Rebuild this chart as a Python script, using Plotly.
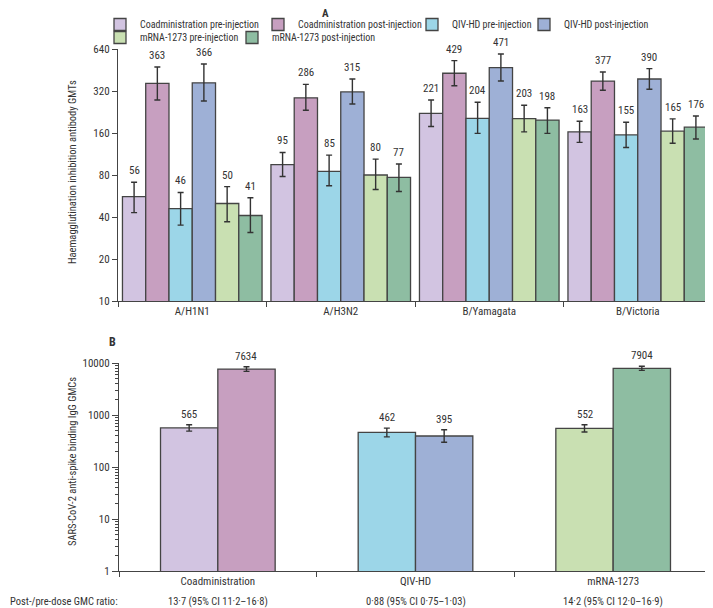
import numpy as np
import plotly.graph_objects as go

# ---------------- data ----------------
strains = ["A/H1N1", "A/H3N2", "B/Yamagata", "B/Victoria"]
series_names = [
    "Coadministration pre-injection", "Coadministration post-injection",
    "QIV-HD pre-injection", "QIV-HD post-injection",
    "mRNA-1273 pre-injection", "mRNA-1273 post-injection",
]
coad_pre = [56, 95, 221, 163]
coad_pre_lo = [43, 78, 178, 137]
coad_pre_hi = [71, 116, 276, 194]
coad_post = [363, 286, 429, 377]
coad_post_lo = [276, 233, 349, 324]
coad_post_hi = [475, 357, 528, 438]
qiv_pre = [46, 85, 204, 155]
qiv_pre_lo = [35, 67, 159, 126]
qiv_pre_hi = [60, 111, 266, 191]
qiv_post = [366, 315, 471, 390]
qiv_post_lo = [271, 258, 377, 329]
qiv_post_hi = [500, 390, 589, 463]
mrna_pre = [50, 80, 203, 165]
mrna_pre_lo = [37, 63, 163, 135]
mrna_pre_hi = [66, 104, 253, 202]
mrna_post = [41, 77, 198, 176]
mrna_post_lo = [31, 61, 159, 145]
mrna_post_hi = [55, 96, 243, 212]

hai_ticks = [10, 20, 40, 80, 160, 320, 640]

groups_b = ["Coadministration", "QIV-HD", "mRNA-1273"]
igg_pre = [565, 462, 552]
igg_pre_lo = [490, 380, 470]
igg_pre_hi = [650, 560, 650]
igg_post = [7634, 395, 7904]
igg_post_lo = [6900, 300, 7200]
igg_post_hi = [8450, 520, 8680]
igg_ticks = [1, 10, 100, 1000, 10000]
ratio_label = "Post-/pre-dose GMC ratio:"
ratios = ["13·7 (95% CI 11·2–16·8)", "0·88 (95% CI 0·75–1·03)", "14·2 (95% CI 12·0–16·9)"]

# ---------------- style ----------------
colors = ["#d2c4e1", "#c79fc0", "#9cd6e8", "#9eb0d6", "#c9e0b2", "#8ebda2"]
FONT = "Liberation Sans Narrow, Roboto Condensed, Arial Narrow, Liberation Sans, sans-serif"
TXT = "#333333"
EDGE = "#444444"
OFF = 8                      # page body margin
W, H = 713 - OFF, 608 - OFF
BARGAP = 0.06
B_WIDTH = 0.29
# legend entry text start (page px) and row top (page px)
legend_text_x = [134, 292, 446, 558, 134, 266]
legend_row_top = [10, 10, 10, 10, 23, 23]

def px_x(p):
    return (p - OFF) / W

def px_y(p):
    return 1 - (p - OFF) / H

vals = [coad_pre, coad_post, qiv_pre, qiv_post, mrna_pre, mrna_post]
los = [coad_pre_lo, coad_post_lo, qiv_pre_lo, qiv_post_lo, mrna_pre_lo, mrna_post_lo]
his = [coad_pre_hi, coad_post_hi, qiv_pre_hi, qiv_post_hi, mrna_pre_hi, mrna_post_hi]

fig = go.Figure()
annotations = []
legend_layouts = {}

n = len(series_names)
wbar = (1 - BARGAP) / n
for i in range(n):
    v = np.array(vals[i], float)
    lo = np.array(los[i], float)
    hi = np.array(his[i], float)
    lname = "legend" if i == 0 else f"legend{i + 1}"
    fig.add_trace(go.Bar(
        x=strains, y=v, name=series_names[i],
        marker=dict(color=colors[i], line=dict(color=EDGE, width=1.3)),
        error_y=dict(type="data", symmetric=False, array=hi - v, arrayminus=v - lo,
                     color=TXT, thickness=1.4, width=3),
        xaxis="x", yaxis="y", legend=lname,
    ))
    legend_layouts[lname] = dict(
        x=px_x(legend_text_x[i] - 34), y=px_y(legend_row_top[i]),
        orientation="h", xanchor="left", yanchor="top", bgcolor="rgba(0,0,0,0)",
        font=dict(size=10, color=TXT, family=FONT), itemwidth=30)
    for j, s in enumerate(strains):
        xc = j - (1 - BARGAP) / 2 + wbar * (i + 0.5)
        annotations.append(dict(x=xc, y=np.log10(hi[j]), xref="x", yref="y",
                                text=str(vals[i][j]), showarrow=False,
                                yanchor="bottom", yshift=3,
                                font=dict(size=11, color=TXT, family=FONT)))

# panel B
pre_cols = [colors[0], colors[2], colors[4]]
post_cols = [colors[1], colors[3], colors[5]]
for k, (yv, lo, hi, cols, off) in enumerate([
        (igg_pre, igg_pre_lo, igg_pre_hi, pre_cols, -B_WIDTH),
        (igg_post, igg_post_lo, igg_post_hi, post_cols, 0.0)]):
    v = np.array(yv, float)
    lo = np.array(lo, float)
    hi = np.array(hi, float)
    fig.add_trace(go.Bar(
        x=groups_b, y=v, width=B_WIDTH, offset=off, showlegend=False,
        marker=dict(color=cols, line=dict(color=EDGE, width=1.3)),
        error_y=dict(type="data", symmetric=False, array=hi - v, arrayminus=v - lo,
                     color=TXT, thickness=1.4, width=3),
        xaxis="x2", yaxis="y2",
    ))
    for j, g in enumerate(groups_b):
        annotations.append(dict(x=j + off + B_WIDTH / 2, y=np.log10(hi[j]), xref="x2", yref="y2",
                                text=str(yv[j]), showarrow=False, yanchor="bottom", yshift=2,
                                font=dict(size=11, color=TXT, family=FONT)))

# ratio row
annotations.append(dict(x=0, y=px_y(601), xref="paper", yref="paper", text=ratio_label,
                        showarrow=False, xanchor="left", yanchor="middle",
                        font=dict(size=10.5, color=TXT, family=FONT)))
for j, r in enumerate(ratios):
    annotations.append(dict(x=groups_b[j], y=px_y(601), xref="x2", yref="paper", text=r,
                            showarrow=False, xanchor="center", yanchor="middle",
                            font=dict(size=10.5, color=TXT, family=FONT)))

# panel letters and axis titles
annotations += [
    dict(x=px_x(325), y=1.0, xref="paper", yref="paper", text="<b>A</b>", showarrow=False,
         xanchor="center", yanchor="top", yshift=3,
         font=dict(size=11, color=TXT, family=FONT)),
    dict(x=px_x(112), y=px_y(342), xref="paper", yref="paper", text="<b>B</b>", showarrow=False,
         xanchor="center", yanchor="middle",
         font=dict(size=12, color=TXT, family=FONT)),
    dict(x=px_x(72), y=px_y(172), xref="paper", yref="paper",
         text="Haemagglutination inhibition antibody GMTs", textangle=-90, showarrow=False,
         xanchor="center", yanchor="middle",
         font=dict(size=10.5, color=TXT, family=FONT)),
    dict(x=px_x(72), y=px_y(462), xref="paper", yref="paper",
         text="SARS-CoV-2 anti-spike binding IgG GMCs", textangle=-90, showarrow=False,
         xanchor="center", yanchor="middle",
         font=dict(size=10.5, color=TXT, family=FONT)),
]

axis_common = dict(showgrid=False, zeroline=False, showline=True, linecolor=EDGE, linewidth=1.3,
                   ticks="outside", tickcolor=EDGE, tickwidth=1.3,
                   tickfont=dict(size=11, color=TXT, family=FONT))

fig.update_layout(
    width=W, height=H, template="none",
    paper_bgcolor="white", plot_bgcolor="white",
    margin=dict(l=0, r=0, t=0, b=0),
    barmode="group", bargap=BARGAP, bargroupgap=0,
    font=dict(family=FONT, size=11, color=TXT),
    showlegend=True,
    xaxis=dict(domain=[px_x(118), px_x(712)], anchor="y", tickson="boundaries", ticklen=5,
               range=[-0.5, 3.5], **axis_common),
    yaxis=dict(domain=[px_y(301), px_y(49)], anchor="x", type="log",
               range=[1, np.log10(640)], tickmode="array", tickvals=hai_ticks,
               ticktext=[str(t) for t in hai_ticks], ticklen=5, **axis_common),
    xaxis2=dict(domain=[px_x(119), px_x(712)], anchor="y2", tickson="boundaries", ticklen=5,
                range=[-0.5, 2.5], **axis_common),
    yaxis2=dict(domain=[px_y(571), px_y(363)], anchor="x2", type="log",
                range=[0, 4], tickmode="array", tickvals=igg_ticks,
                ticktext=[str(t) for t in igg_ticks], ticklen=6,
                minor=dict(ticks="outside", ticklen=3, tickcolor=EDGE, tickwidth=1,
                           tickmode="array",
                           tickvals=[m * 10 ** d for d in range(4) for m in range(2, 10)]),
                **axis_common),
    annotations=annotations,
    **legend_layouts,
)

fig.write_html("out.html")
